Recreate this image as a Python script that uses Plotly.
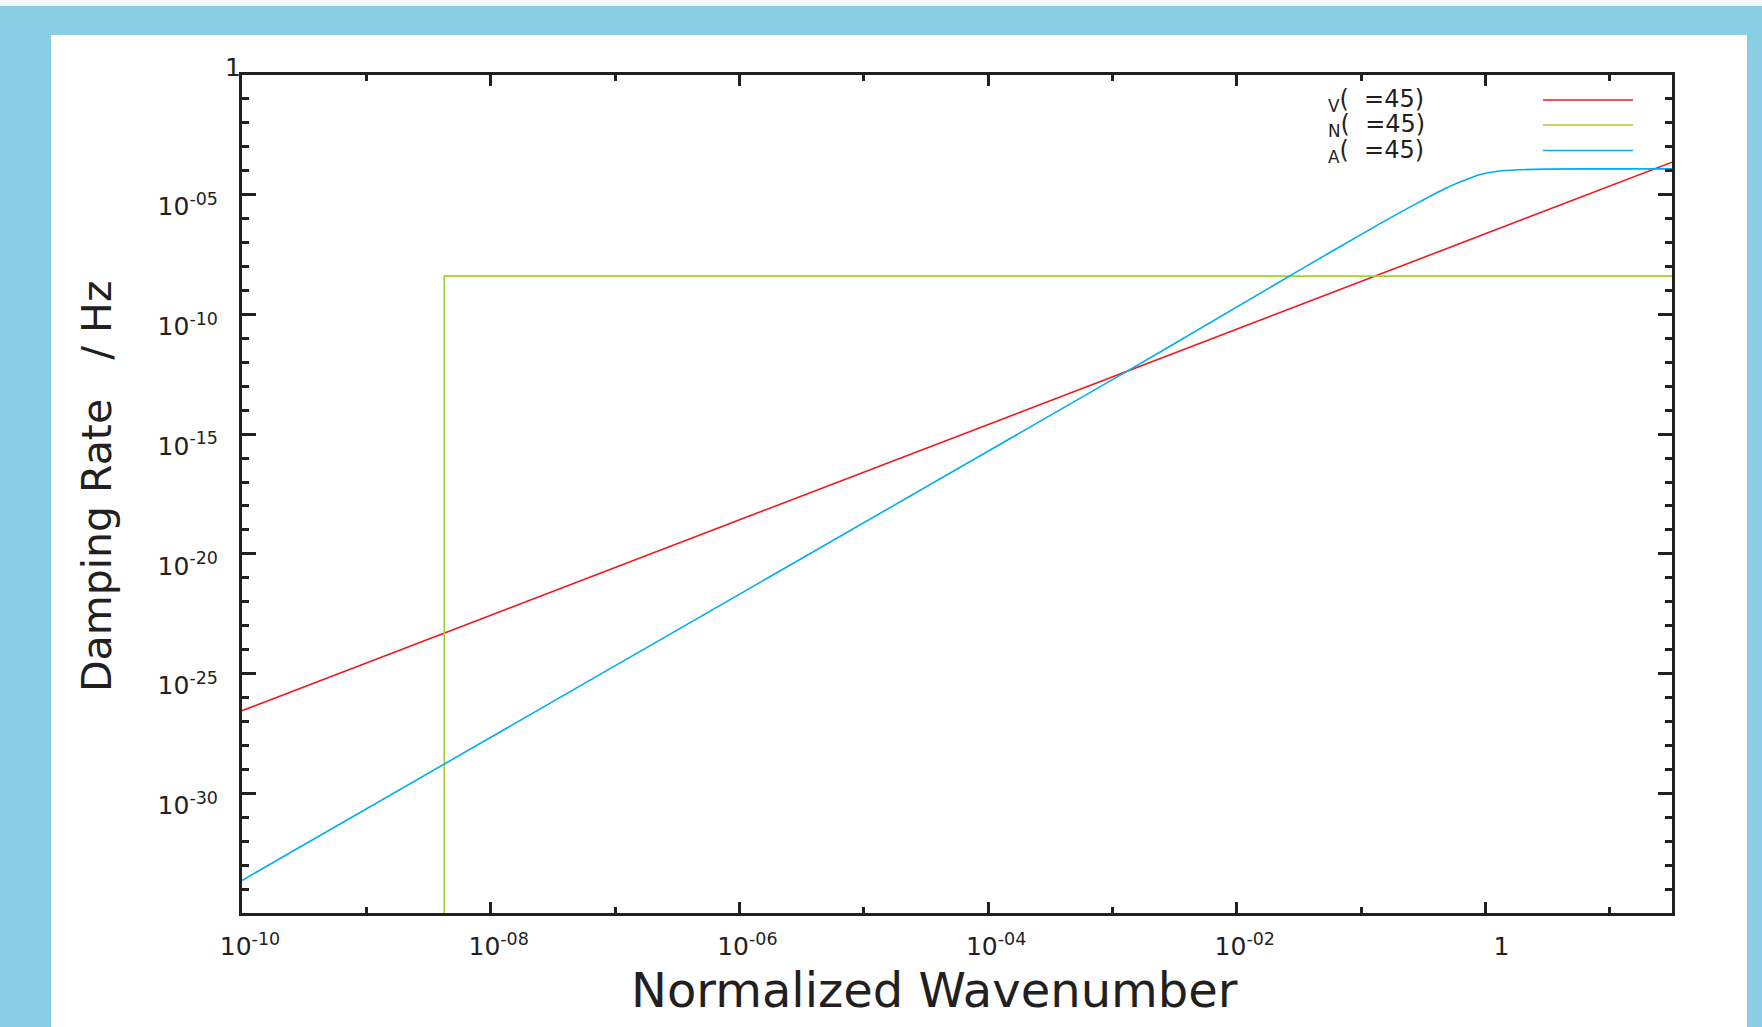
import plotly.graph_objects as go

# ---------------- data ----------------
k_V = [1e-10, 31.62]
rate_V = [2.82e-27, 2.29e-4]

k_N = [4.23e-9, 4.23e-9, 31.62]
rate_N = [1e-40, 3.98e-9, 3.98e-9]

k_A = [1e-10, 1.294e-3, 3.2e-2, 0.1406, 0.295, 0.484, 0.661, 0.891,
       1.219, 1.862, 3.09, 10.0, 31.62]
rate_A = [2.29e-34, 4.07e-13, 7.08e-9, 6.03e-7, 5.01e-6, 1.91e-5, 3.80e-5,
          6.76e-5, 9.33e-5, 1.096e-4, 1.175e-4, 1.20e-4, 1.20e-4]

legend_labels = ["<sub>V</sub>(\u00a0\u00a0=45)",
                 "<sub>N</sub>(\u00a0\u00a0=45)",
                 "<sub>A</sub>(\u00a0\u00a0=45)"]
series_colors = ["#ED1C24", "#A6CE39", "#00AEEF"]

x_tickvals = [1e-10, 1e-8, 1e-6, 1e-4, 1e-2, 1]
x_ticktext = ["10<sup>-10</sup>", "10<sup>-08</sup>", "10<sup>-06</sup>",
              "10<sup>-04</sup>", "10<sup>-02</sup>", "\u00a0\u00a01"]
x_minor = [1e-9, 1e-7, 1e-5, 1e-3, 1e-1, 10]

y_tickvals = [1, 1e-5, 1e-10, 1e-15, 1e-20, 1e-25, 1e-30]
y_ticktext = ["", "10<sup>-05</sup>", "10<sup>-10</sup>", "10<sup>-15</sup>",
              "10<sup>-20</sup>", "10<sup>-25</sup>", "10<sup>-30</sup>"]
y_top_label = "1"
y_minor = [10.0 ** -i for i in range(1, 35) if i % 5]

x_title = "Normalized Wavenumber"
y_title = "Damping Rate\u00a0\u00a0\u00a0/ Hz"

# ---------------- layout geometry (pixels) ----------------
W, H = 1762, 1027
L, R, T, B = 242, 90, 75, 114
PW, PH = W - L - R, H - T - B


def px(x):
    return (x - L) / PW


def py(y):
    return (H - B - y) / PH


INK = "#231F20"
FONT = "DejaVu Sans"

fig = go.Figure()
for k, r, c, shp in [(k_V, rate_V, series_colors[0], "linear"),
                     (k_N, rate_N, series_colors[1], "linear"),
                     (k_A, rate_A, series_colors[2], "spline")]:
    fig.add_trace(go.Scatter(x=k, y=r, mode="lines",
                             line=dict(color=c, width=1.6, shape=shp,
                                       smoothing=0.8),
                             showlegend=False, hoverinfo="skip"))

shapes = [
    # white panel
    dict(type="rect", xref="paper", yref="paper", x0=px(51), x1=px(1747),
         y0=py(35), y1=py(H + 5), fillcolor="white", line=dict(width=0),
         layer="below"),
    # thin light strip on top
    dict(type="rect", xref="paper", yref="paper", x0=px(-5), x1=px(W + 5),
         y0=py(6), y1=py(-5), fillcolor="#F4F6F7", line=dict(width=0),
         layer="below"),
]
legend_y = [100, 125, 150.5]
annotations = []
for lab, c, yy in zip(legend_labels, series_colors, legend_y):
    shapes.append(dict(type="line", xref="paper", yref="paper",
                       x0=px(1543), x1=px(1633), y0=py(yy), y1=py(yy),
                       line=dict(color=c, width=1.6)))
    annotations.append(dict(text=lab, xref="paper", yref="paper",
                            x=px(1326), y=py(yy + 1), xanchor="left",
                            yanchor="middle", showarrow=False,
                            font=dict(family=FONT, size=24, color=INK)))

annotations.append(dict(text=y_top_label, xref="paper", yref="y",
                        x=px(243), y=0, yshift=8, xanchor="right",
                        yanchor="middle", showarrow=False,
                        font=dict(family=FONT, size=25, color=INK)))
annotations.append(dict(text=x_title, xref="paper", yref="paper",
                        x=px(934), y=py(990), xanchor="center",
                        yanchor="middle", showarrow=False,
                        font=dict(family=FONT, size=48, color=INK)))
annotations.append(dict(text=y_title, xref="paper", yref="paper",
                        x=px(97), y=py(487), xanchor="center",
                        yanchor="middle", showarrow=False, textangle=-90,
                        font=dict(family=FONT, size=41, color=INK)))

axis_common = dict(type="log", showline=True, linewidth=3, linecolor=INK,
                   mirror="ticks", ticks="inside", tickcolor=INK,
                   tickwidth=2.5, showgrid=False, zeroline=False,
                   tickfont=dict(family=FONT, size=25, color=INK))

fig.update_layout(
    width=W, height=H,
    margin=dict(l=L, r=R, t=T, b=B),
    paper_bgcolor="#8BCDE3",
    plot_bgcolor="white",
    shapes=shapes,
    annotations=annotations,
    xaxis=dict(axis_common, range=[-10, 1.5], tickvals=x_tickvals,
               ticktext=x_ticktext, ticklen=11, ticklabelshift=8,
               ticklabelstandoff=9,
               minor=dict(tickvals=x_minor, ticks="inside", ticklen=6,
                          tickwidth=2.5, tickcolor=INK, showgrid=False)),
    yaxis=dict(axis_common, range=[-35, 0], tickvals=y_tickvals,
               ticktext=y_ticktext, ticklen=14, ticklabelshift=12,
               ticklabelstandoff=16,
               minor=dict(tickvals=y_minor, ticks="inside", ticklen=7,
                          tickwidth=2.5, tickcolor=INK, showgrid=False)),
)

fig.write_html("out.html", config={"displayModeBar": False},
               post_script="document.body.style.margin='0';")
